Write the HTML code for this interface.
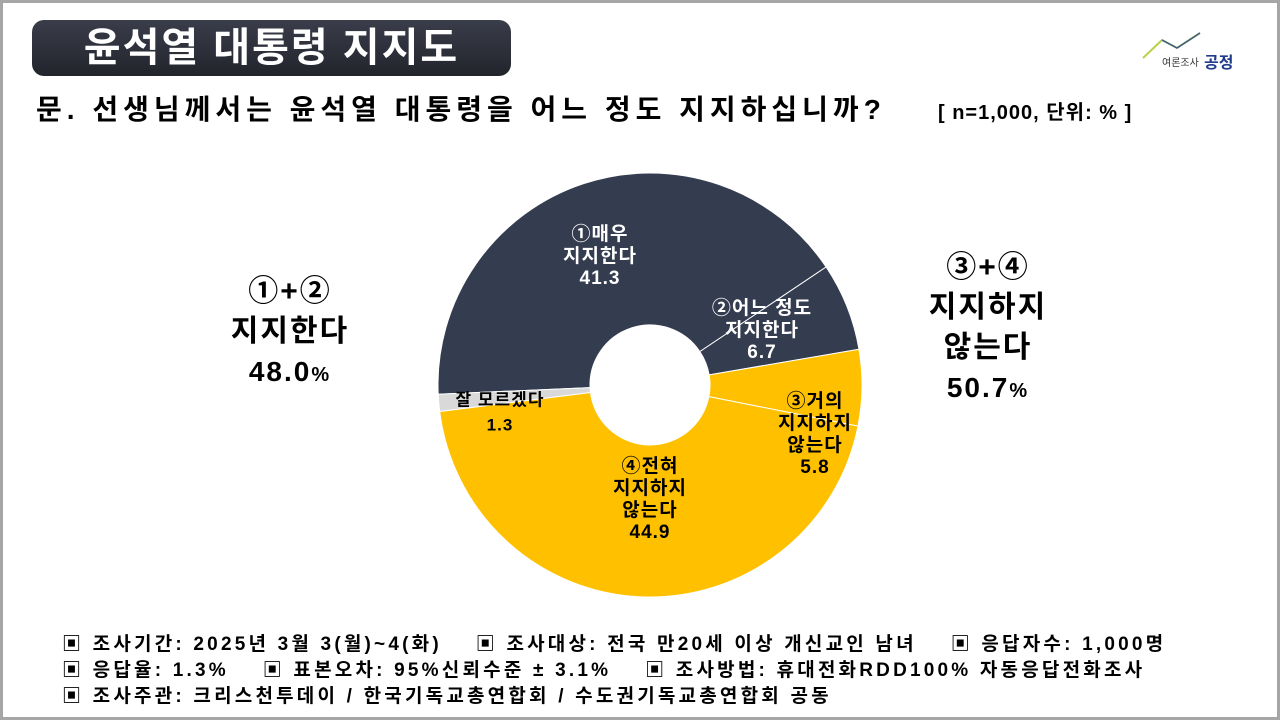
<!DOCTYPE html>
<html><head><meta charset="utf-8">
<style>
body{margin:0;width:1280px;height:720px;overflow:hidden;background:#fff;font-family:"Liberation Sans","Noto Sans CJK KR",sans-serif;}
#frame{position:absolute;left:0;top:0;width:1274px;height:714px;border:3px solid #a6a6a6;}
.t{position:absolute;white-space:nowrap;font-weight:bold;}
.fn{font-size:19px;letter-spacing:3.2px;}
</style></head><body>
<div id="frame"></div>
<div style="position:absolute;left:32px;top:20px;width:479px;height:56px;border-radius:12px;background:linear-gradient(#3a3d4a,#22242c);"></div>
<div class="t" style="left:32px;top:20px;width:479px;height:56px;line-height:56px;text-align:center;color:#fff;font-size:40px;letter-spacing:2px;">윤석열 대통령 지지도</div>
<div class="t" style="left:36px;top:88px;font-size:28px;letter-spacing:5px;color:#000;">문. 선생님께서는 윤석열 대통령을 어느 정도 지지하십니까?</div>
<div class="t" style="left:938px;top:96px;font-size:20px;letter-spacing:1px;">[ n=1,000, 단위: % ]</div>
<svg style="position:absolute;left:1140px;top:28px" width="110" height="46">
<polyline points="3,30 22,12 37,20 60,5" fill="none" stroke="#b8d14a" stroke-width="2"/>
<polyline points="22,12 37,20 60,5" fill="none" stroke="#3a5a8a" stroke-width="1.5"/>
<text x="22" y="38" font-size="10" fill="#333" font-family="Liberation Sans,Noto Sans CJK KR,sans-serif">여론조사</text>
<text x="64" y="40" font-size="16" font-weight="bold" fill="#1f3b8a" font-family="Liberation Sans,Noto Sans CJK KR,sans-serif">공정</text>
</svg>
<svg id="chart" style="position:absolute;left:0;top:0" width="1280" height="720"></svg>
<div class="t" style="left:200px;top:272px;width:180px;text-align:center;font-size:30px;line-height:40px;letter-spacing:2px;">①+②<br>지지한다<br><span style="font-size:28px">48.0</span><span style="font-size:20px">%</span></div>
<div class="t" style="left:898px;top:248px;width:180px;text-align:center;font-size:30px;line-height:40px;letter-spacing:2px;">③+④<br>지지하지<br>않는다<br><span style="font-size:28px">50.7</span><span style="font-size:20px">%</span></div>
<div class="t fn" style="left:62px;top:629px;">▣ 조사기간: 2025년 3월 3(월)~4(화) &nbsp;&nbsp; ▣ 조사대상: 전국 만20세 이상 개신교인 남녀 &nbsp;&nbsp; ▣ 응답자수: 1,000명</div>
<div class="t fn" style="left:62px;top:655px;">▣ 응답율: 1.3% &nbsp;&nbsp; ▣ 표본오차: 95%신뢰수준 ± 3.1% &nbsp;&nbsp; ▣ 조사방법: 휴대전화RDD100% 자동응답전화조사</div>
<div class="t fn" style="left:62px;top:681px;">▣ 조사주관: 크리스천투데이 / 한국기독교총연합회 / 수도권기독교총연합회 공동</div>
<script>
const categories=["①매우|지지한다","②어느 정도|지지한다","③거의|지지하지|않는다","④전혀|지지하지|않는다","잘 모르겠다"];
const values=[41.3,6.7,5.8,44.9,1.3];
const colors=["#343c4f","#343c4f","#ffc000","#ffc000","#d9d9d9"];
const textColors=["#fff","#fff","#000","#000","#000"];
const labelPos=[[600,262],[762,336],[815,440],[650,505],[500,418]];
const svg=document.getElementById('chart');
const NS='http://www.w3.org/2000/svg';
const cx=650,cy=385,R=212,r=60,start=267.5;
function pt(a,rad){const t=a*Math.PI/180;return [cx+rad*Math.sin(t),cy-rad*Math.cos(t)];}
const total=values.reduce((a,b)=>a+b,0);
let a0=start;
const labels=[];
values.forEach((v,i)=>{
  const a1=a0+v/total*360;
  const [x0,y0]=pt(a0,R),[x1,y1]=pt(a1,R),[x2,y2]=pt(a1,r),[x3,y3]=pt(a0,r);
  const lg=(a1-a0)>180?1:0;
  const p=document.createElementNS(NS,'path');
  p.setAttribute('d',`M${x0},${y0}A${R},${R} 0 ${lg} 1 ${x1},${y1}L${x2},${y2}A${r},${r} 0 ${lg} 0 ${x3},${y3}Z`);
  p.setAttribute('fill',colors[i]);p.setAttribute('stroke','#fff');p.setAttribute('stroke-width','1');
  
  
  svg.appendChild(p);
  const lines=categories[i].split('|').concat([v.toFixed(1)]);
  const t=document.createElementNS(NS,'text');
  
  
  t.setAttribute('text-anchor','middle');t.setAttribute('font-weight','bold');
  t.setAttribute('font-size',i==4?'17':'19');t.setAttribute('fill',textColors[i]);
  t.setAttribute('letter-spacing','1');
  t.setAttribute('font-family','Liberation Sans, Noto Sans CJK KR, sans-serif');
  const lh=i==4?25:22;
  const y0l=labelPos[i][1]-(lines.length-1)*lh/2;
  lines.forEach((s,k)=>{const ts=document.createElementNS(NS,'tspan');ts.setAttribute('x',labelPos[i][0]);ts.setAttribute('y',y0l+k*lh);ts.textContent=s;t.appendChild(ts);});
  labels.push(t);
  a0=a1;
});
labels.forEach(t=>svg.appendChild(t));
</script>
</body></html>
